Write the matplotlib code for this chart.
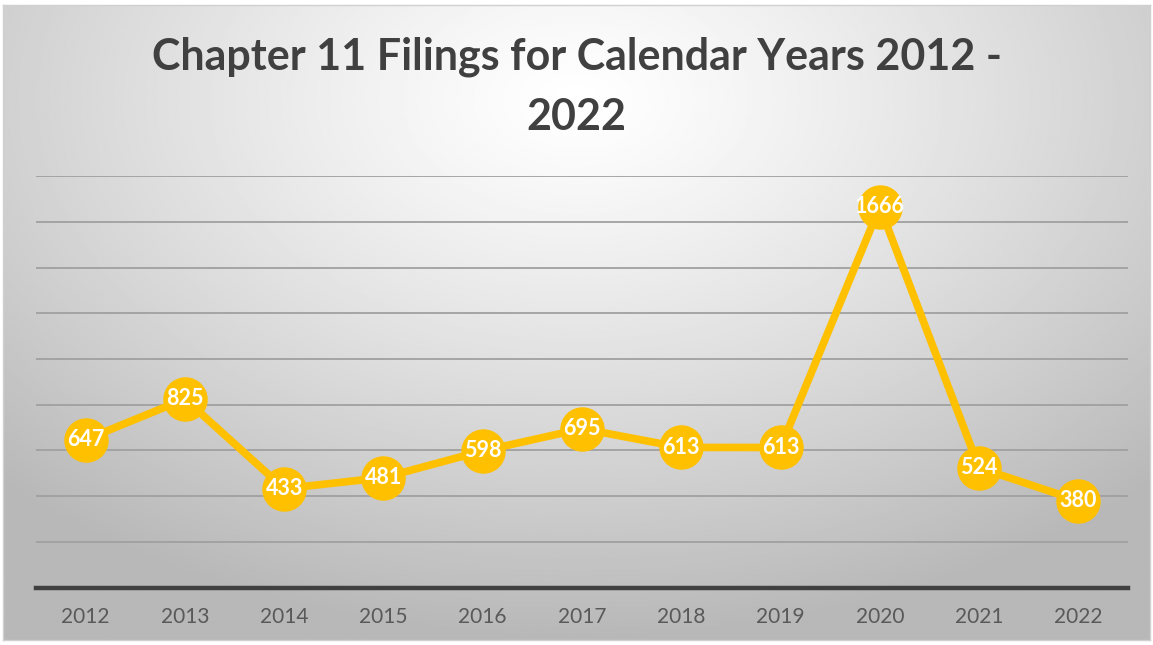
import numpy as np
import matplotlib
matplotlib.use("Agg")
import matplotlib.pyplot as plt

years = ["2012", "2013", "2014", "2015", "2016", "2017", "2018", "2019", "2020", "2021", "2022"]
filings = [647, 825, 433, 481, 598, 695, 613, 613, 1666, 524, 380]

plt.rcParams['font.family'] = ['Lato', 'DejaVu Sans']

fig = plt.figure(figsize=(11.53, 6.45), dpi=100)

# radial gradient background
bg = fig.add_axes([0.003, 0.008, 0.994, 0.985])
yy, xx = np.mgrid[0:1:300j, 0:1:500j]
r = np.sqrt(((xx - 0.5) / 0.72) ** 2 + ((yy - 0.15) / 0.85) ** 2)
shade = np.clip(1.0 - 0.28 * r ** 1.2, 0.72, 1.0)
bg.imshow(shade, cmap='gray', vmin=0, vmax=1, aspect='auto', extent=[0, 1, 1, 0])
bg.set_xticks([])
bg.set_yticks([])
for s in bg.spines.values():
    s.set_color('#d0d0d0')
    s.set_linewidth(1)

ax = fig.add_axes([0.0312, 0.089, 0.9471, 0.638])
ax.patch.set_alpha(0)
x = np.arange(len(years))
ax.plot(x, filings, color='#FFC000', lw=5.5, marker='o', markersize=31,
        zorder=3, solid_joinstyle='round')
for xi, v in zip(x, filings):
    ax.text(xi, v, str(v), ha='center', va='center', color='white',
            fontsize=15.5, fontweight='bold', zorder=4)

ax.set_xlim(-0.5, len(years) - 0.5)
ax.set_ylim(0, 1800)
ax.set_yticks(np.arange(200, 1801, 200))
ax.yaxis.grid(True, color='#a0a0a0', lw=1.3)
ax.set_axisbelow(True)
ax.tick_params(axis='y', left=False, labelleft=False)
ax.set_xticks(x)
ax.set_xticklabels(years, color='#595959', fontsize=15)
ax.tick_params(axis='x', length=0, pad=14)
for s in ['top', 'right', 'left']:
    ax.spines[s].set_visible(False)
ax.spines['bottom'].set_color('#404040')
ax.spines['bottom'].set_linewidth(3.2)

fig.text(0.5, 0.866, "Chapter 11 Filings for Calendar Years 2012 -\n2022",
         ha='center', va='center', fontsize=31, fontweight='bold',
         color='#404040', linespacing=1.6)

fig.savefig('out.png', dpi=100)
